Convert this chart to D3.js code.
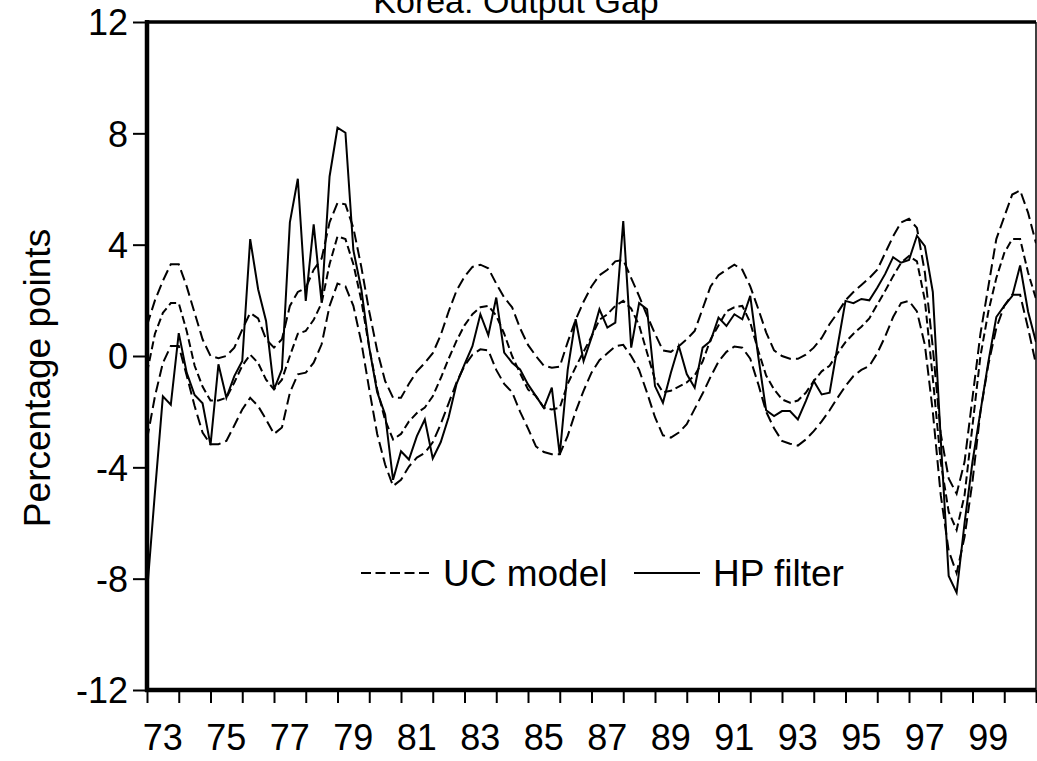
<!DOCTYPE html>
<html><head><meta charset="utf-8">
<script src="https://cdn.jsdelivr.net/npm/d3@7"></script>
<style>
body{margin:0;background:#fff}
svg{display:block}
text{font-family:"Liberation Sans",Arial,Helvetica,sans-serif;fill:#000}
</style>
</head><body>
<svg id="chart" width="1037" height="761"></svg>
<script>
// ---------------- data (quarterly, 1973Q1 onward) ----------------
const startYear = 1973;
const yTicks = [-12, -8, -4, 0, 4, 8, 12];
const yearTicks = [1973,1974,1975,1976,1977,1978,1979,1980,1981,1982,1983,1984,1985,1986,1987,1988,1989,1990,1991,1992,1993,1994,1995,1996,1997,1998,1999,2000,2001];
const yearLabels = ["73","75","77","79","81","83","85","87","89","91","93","95","97","99"];
const labelYears = [1973,1975,1977,1979,1981,1983,1985,1987,1989,1991,1993,1995,1997,1999];
const seriesNames = ["UC model", "HP filter"];

const hpFilter = [
 -8.5,-4.9,-1.45,-1.75, 0.82,-0.6,-1.4,-1.7, -3.2,-0.3,-1.5,-0.72, -0.18,4.2,2.4,1.26,
 -1.2,-0.48,4.8,6.37, 1.98,4.73,1.92,6.45, 8.2,8.02,3.8,2.4, 0.3,-1.3,-2.1,-4.45,
 -3.42,-3.72,-2.88,-2.28, -3.68,-3.1,-2.2,-1.0, -0.3,0.35,1.5,0.75, 2.1,0.12,-0.24,-0.48,
 -1.02,-1.44,-1.86,-1.14, -3.55,-0.5,1.32,-0.18, 0.66,1.68,1.02,1.2, 4.85,0.3,1.9,1.68,
 -1.08,-1.68,-0.6,0.36, -0.65,-1.14,0.3,0.54, 1.38,1.08,1.5,1.32, 2.16,0.0,-1.95,-2.16,
 -1.98,-1.98,-2.28,-1.62, -0.9,-1.38,-1.32,0.35, 1.98,1.9,2.05,2.0, 2.45,2.95,3.55,3.35,
 3.45,4.32,3.95,2.3, -3.0,-7.9,-8.5,-6.0, -3.8,-2.0,-0.2,1.4, 1.8,2.15,3.25,1.6, 0.5
];
const ucModel = [
 -0.6,0.8,1.55,1.9, 1.9,0.9,-0.35,-1.1, -1.6,-1.6,-1.5,-0.95, -0.35,0.05,-0.25,-0.85,
 -1.2,-0.85,0.0,0.8, 0.9,1.3,1.9,3.3, 4.3,4.2,3.3,2.0, 0.3,-1.2,-2.3,-3.0,
 -2.8,-2.35,-2.05,-1.85, -1.45,-0.8,-0.1,0.55, 1.1,1.5,1.75,1.8, 1.45,0.8,0.0,-0.62,
 -1.2,-1.44,-1.86,-1.92, -1.86,-1.0,-0.4,0.15, 0.7,1.3,1.5,1.8, 1.98,1.7,1.1,0.12,
 -0.85,-1.3,-1.25,-1.1, -0.95,-0.7,-0.2,0.6, 1.1,1.6,1.75,1.8, 1.2,0.2,-0.7,-1.2,
 -1.56,-1.68,-1.6,-1.32, -0.9,-0.55,-0.35,0.1, 0.5,0.8,1.05,1.35, 1.85,2.34,2.87,3.35,
 3.59,3.4,2.0,-0.8, -3.8,-5.6,-6.25,-5.0, -2.5,0.0,1.6,2.8, 3.7,4.2,4.2,3.0, 2.05
];
const ucUpper = [
 1.1,2.0,2.7,3.3, 3.3,2.5,1.55,0.6, 0.0,-0.08,0.0,0.3, 0.95,1.55,1.35,0.6,
 0.3,0.6,1.8,2.3, 2.45,3.1,3.5,4.8, 5.5,5.45,4.6,3.2, 1.6,0.2,-0.9,-1.5,
 -1.5,-1.0,-0.55,-0.25, 0.1,0.75,1.6,2.35, 2.85,3.2,3.28,3.15, 2.6,2.1,1.75,1.0,
 0.4,0.0,-0.35,-0.42, -0.38,0.5,1.3,1.95, 2.5,2.9,3.1,3.4, 3.45,2.8,2.15,1.45,
 0.8,0.2,0.15,0.35, 0.6,0.9,1.7,2.5, 2.9,3.1,3.28,3.1, 2.5,1.7,0.85,0.2,
 0.0,-0.1,-0.1,0.05, 0.3,0.65,1.15,1.55, 2.0,2.3,2.55,2.8, 3.1,3.7,4.3,4.8,
 4.93,4.6,3.0,0.3, -2.8,-4.4,-4.95,-3.8, -1.5,0.8,2.5,4.2, 5.0,5.8,5.95,5.15, 4.05
];
const ucLower = [
 -3.0,-1.45,-0.25,0.36, 0.36,-0.7,-1.8,-2.75, -3.17,-3.17,-3.05,-2.5, -1.92,-1.5,-1.8,-2.28,
 -2.8,-2.57,-1.32,-0.66, -0.6,-0.24,0.42,1.8, 2.6,2.5,1.8,0.5, -1.2,-2.8,-3.9,-4.67,
 -4.45,-3.97,-3.65,-3.48, -3.1,-2.45,-1.7,-0.95, -0.35,0.05,0.24,0.2, -0.5,-1.0,-1.3,-2.0,
 -2.6,-3.25,-3.45,-3.53, -3.53,-2.87,-2.0,-1.25, -0.6,-0.15,0.1,0.35, 0.4,0.0,-0.5,-1.32,
 -2.2,-2.85,-2.93,-2.75, -2.45,-1.9,-1.35,-0.75, -0.2,0.15,0.34,0.3, -0.1,-1.0,-2.0,-2.6,
 -3.05,-3.15,-3.22,-3.0, -2.7,-2.35,-1.95,-1.5, -1.08,-0.72,-0.5,-0.36, 0.1,0.7,1.4,1.9,
 1.98,1.6,0.4,-2.0, -5.0,-7.0,-7.8,-6.5, -4.5,-2.0,-0.3,1.0, 1.8,2.2,2.2,1.0, -0.3
];

// ---------------- layout ----------------
const svg = d3.select("#chart");
const plotL = 147, plotR = 1036, plotT = 22, plotB = 690;
const FS = 36;

const x = d3.scaleLinear().domain([1973, 2001]).range([plotL, plotR]);
const y = d3.scaleLinear().domain([-12, 12]).range([plotB, plotT]);
const t = i => startYear + i / 4;

svg.append("clipPath").attr("id", "clip")
  .append("rect").attr("x", plotL).attr("y", plotT).attr("width", plotR - plotL).attr("height", plotB - plotT);

const line = d3.line().x((d, i) => x(t(i))).y(d => y(d));

const g = svg.append("g").attr("clip-path", "url(#clip)");
g.append("path").datum(ucUpper).attr("d", line)
  .attr("fill", "none").attr("stroke", "#000").attr("stroke-width", 2).attr("stroke-dasharray", "11,5");
g.append("path").datum(ucLower).attr("d", line)
  .attr("fill", "none").attr("stroke", "#000").attr("stroke-width", 2).attr("stroke-dasharray", "11,5");
g.append("path").datum(ucModel).attr("d", line)
  .attr("fill", "none").attr("stroke", "#000").attr("stroke-width", 2).attr("stroke-dasharray", "8,4");
g.append("path").datum(hpFilter).attr("d", line)
  .attr("fill", "none").attr("stroke", "#000").attr("stroke-width", 2);

// frame
svg.append("line").attr("x1", plotL).attr("x2", plotR).attr("y1", plotT).attr("y2", plotT)
  .attr("stroke", "#000").attr("stroke-width", 3.5);
svg.append("line").attr("x1", plotR).attr("x2", plotR).attr("y1", plotT).attr("y2", plotB)
  .attr("stroke", "#000").attr("stroke-width", 1.5);

// y axis
const yAxis = d3.axisLeft(y).tickValues(yTicks).tickSize(14).tickPadding(5).tickFormat(d => String(d));
const ya = svg.append("g").attr("transform", `translate(${plotL},0)`).call(yAxis);
ya.attr("font-size", null).attr("font-family", null);
ya.select(".domain").attr("stroke-width", 4.5).attr("d", `M0,${plotT - 2}V${plotB + 2}`);
ya.selectAll(".tick line").attr("stroke-width", 2);
ya.selectAll(".tick text").attr("font-size", FS).attr("fill", "#000").attr("dy", "0.36em");

// x axis
const xAxis = d3.axisBottom(x).tickValues(yearTicks).tickSize(13).tickFormat("");
const xa = svg.append("g").attr("transform", `translate(0,${plotB})`).call(xAxis);
xa.select(".domain").attr("stroke-width", 4.5).attr("d", `M${plotL - 2},0H${plotR}`);
xa.selectAll(".tick line").attr("stroke-width", 2);

svg.append("g").selectAll("text").data(labelYears).join("text")
  .attr("x", d => x(d + 0.5)).attr("y", 750)
  .attr("text-anchor", "middle").attr("font-size", FS)
  .text((d, i) => yearLabels[i]);

// axis title
svg.append("text").attr("transform", "translate(50,378) rotate(-90)")
  .attr("text-anchor", "middle").attr("font-size", 37).text("Percentage points");

// chart title (partly cut off at top, as in the source)
svg.append("text").attr("x", 516).attr("y", 13).attr("text-anchor", "middle")
  .attr("font-size", 34).text("Korea: Output Gap");

// legend
const legY = 573;
svg.append("line").attr("x1", 361).attr("x2", 429).attr("y1", legY).attr("y2", legY)
  .attr("stroke", "#000").attr("stroke-width", 1.8).attr("stroke-dasharray", "10,4.5");
svg.append("text").attr("x", 443).attr("y", legY + 13).attr("font-size", 37).text(seriesNames[0]);
svg.append("line").attr("x1", 634).attr("x2", 700).attr("y1", legY).attr("y2", legY)
  .attr("stroke", "#000").attr("stroke-width", 1.8);
svg.append("text").attr("x", 713).attr("y", legY + 13).attr("font-size", 37).text(seriesNames[1]);
</script>
</body></html>
